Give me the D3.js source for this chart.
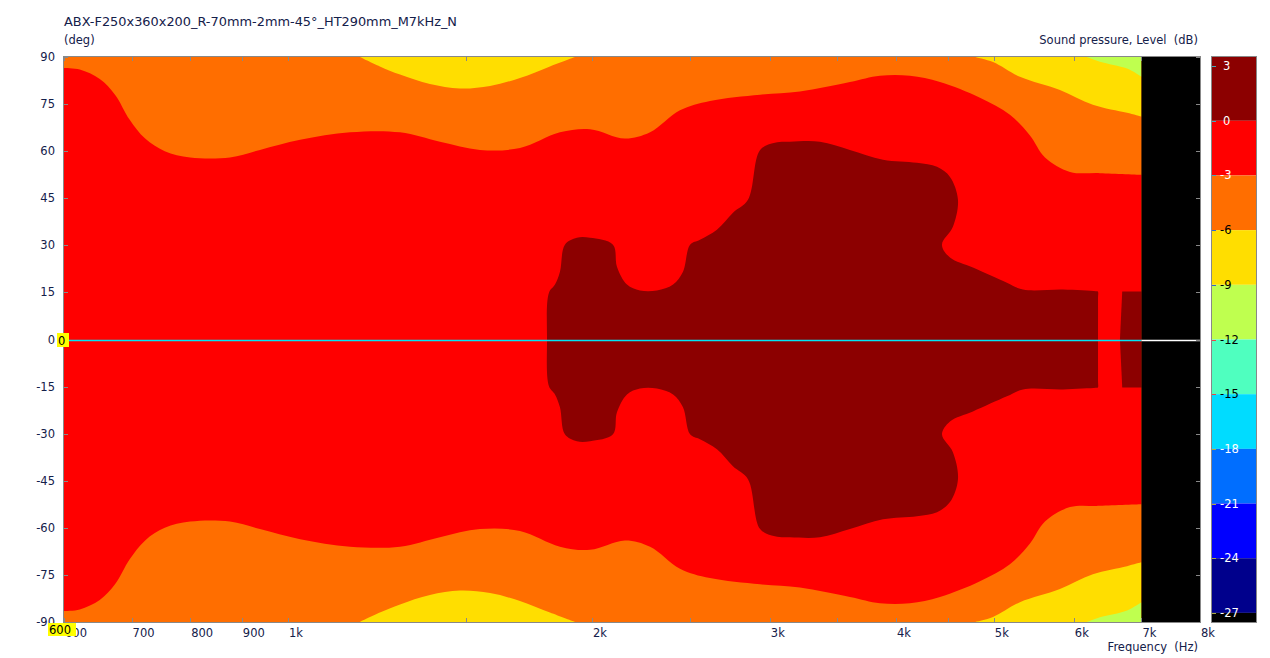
<!DOCTYPE html>
<html>
<head>
<meta charset="utf-8">
<script src="https://cdn.jsdelivr.net/npm/d3@7/dist/d3.min.js"></script>
<style>
  body { margin: 0; background: #fff; }
  svg { display: block; font-family: "DejaVu Sans", Verdana, sans-serif; }
</style>
</head>
<body>
<div class="js-d3"></div>
<script>
// chart data
const titleText = "ABX-F250x360x200_R-70mm-2mm-45°_HT290mm_M7kHz_N";

const xTicks = [600, 700, 800, 900, 1000, 1500, 2000, 2500, 3000, 3500, 4000, 4500, 5000, 6000, 7000, 8000];
const xTickLabels = ["600", "700", "800", "900", "1k", "", "2k", "", "3k", "", "4k", "", "5k", "6k", "7k", "8k"];
const yTicks = [-90, -75, -60, -45, -30, -15, 0, 15, 30, 45, 60, 75, 90];

// -3 dB contour (upper half, mirrored below)
const redFreq = [600, 622, 651, 674, 697, 722, 755, 800, 876, 938, 1028, 1152, 1291, 1414, 1549, 1697, 1859, 1991, 2156, 2283,
  2444, 2617, 2934, 3213, 3601, 3856, 4129, 4422, 4844, 5186, 5429, 5618, 5948, 6368, 7000];
const redDeg = [86.5, 86, 83, 78, 70, 64, 60, 58, 58, 60.4, 63.6, 66, 66, 63, 60.4, 61, 66, 67, 64, 66,
  73, 76, 78, 79, 82, 84, 84, 82, 77, 71.6, 65, 58, 53.4, 53, 52.5];

// -6 dB contour near the edges
const yelLeftFreq = [1178, 1233, 1291, 1382, 1480, 1585, 1697, 1817, 1924];
const yelLeftDeg = [90, 87, 84.4, 81.4, 80, 80.8, 83.3, 87, 90];
const yelRightFreq = [4789, 4990, 5306, 5813, 6266, 6774, 7000];
const yelRightDeg = [90, 88.4, 83.7, 79.5, 74.8, 72.2, 71];

// -9 dB contour
const greenFreq = [6181, 6368, 6774, 7000];
const greenDeg = [90, 88.5, 86.3, 83.7];

// 0 dB contour outline (upper half)
const darkFreq = [1805, 1813, 1838, 1859, 1880, 1932, 1991, 2098, 2117, 2166, 2231, 2319, 2406, 2461, 2501, 2558, 2659, 2758, 2854, 2934,
  3035, 3141, 3363, 3601, 3883, 4196, 4392, 4524, 4607, 4554, 4442, 4524, 4767, 5151, 5343, 5853, 6310, 6338, 6340, 6340];
const darkDeg = [0, 14.9, 17.5, 21.6, 30.2, 32.4, 32.4, 30.2, 23.2, 17.5, 15.6, 15.6, 17.5, 21.6, 30.2, 31.8, 35, 40.4, 44.5, 60.4,
  62.7, 63, 63, 60.4, 57.3, 56.3, 55, 51.8, 44.5, 35.9, 30.2, 26.1, 22.9, 18.1, 15.9, 15.9, 15.4, 15.3, 13, 0];
const darkTailFreq = [6665, 6700, 7000, 7000];
const darkTailDeg = [0, 15.3, 15.3, 0];

const dataEndFreq = 7000;

// colour legend
const cbEdges = [3.5, 0, -3, -6, -9, -12, -15, -18, -21, -24, -27, -27.5];
const cbColors = ["#8c0000", "#ff0000", "#ff6e00", "#ffde00", "#bfff4f", "#4fffbf", "#00dcff", "#006eff", "#0000ff", "#00008c", "#000000"];
const cbTicks = [3, 0, -3, -6, -9, -12, -15, -18, -21, -24, -27];
const cbTickText = ["#fff", "#fff", "#fff", "#000", "#000", "#000", "#000", "#fff", "#fff", "#fff", "#fff"];
const cbTickMark = ["#4ab", "#4ab", "#4ab", "#36c", "#36c", "#e44", "#e44", "#aa4", "#aa4", "#aa4", "#aa4"];

const W = 1270;
const H = 658;
const plot = { left: 64, right: 1200, top: 57, bottom: 622 };
const bar = { left: 1212, right: 1256 };
const textColor = "#14204a";

const zip = (a, b) => a.map((v, i) => [v, b[i]]);

const draw = () => {
  const svg = d3.select(".js-d3")
    .append("svg")
    .attr("width", W)
    .attr("height", H);

  const x = d3.scaleLog().domain([600, 8000]).range([plot.left, plot.right]);
  const y = d3.scaleLinear().domain([-90, 90]).range([plot.bottom, plot.top]);

  svg.append("clipPath")
    .attr("id", "clip")
    .append("rect")
    .attr("x", plot.left)
    .attr("y", plot.top)
    .attr("width", plot.right - plot.left)
    .attr("height", plot.bottom - plot.top);

  const g = svg.append("g").attr("clip-path", "url(#clip)");

  // base band: -6..-3
  g.append("rect")
    .attr("x", plot.left)
    .attr("y", plot.top)
    .attr("width", plot.right - plot.left)
    .attr("height", plot.bottom - plot.top)
    .attr("fill", cbColors[2]);

  const curve = d3.curveCatmullRom.alpha(0.5);

  const edgeArea = (sign) => d3.area()
    .x((d) => x(d[0]))
    .y0(y(sign * 90))
    .y1((d) => y(sign * d[1]))
    .curve(curve);

  [[yelLeftFreq, yelLeftDeg, cbColors[3]], [yelRightFreq, yelRightDeg, cbColors[3]], [greenFreq, greenDeg, cbColors[4]]]
    .forEach(([f, d, c]) => {
      [1, -1].forEach((s) => {
        g.append("path")
          .attr("d", edgeArea(s)(zip(f, d)))
          .attr("fill", c);
      });
    });

  const redArea = d3.area()
    .x((d) => x(d[0]))
    .y0((d) => y(-d[1]))
    .y1((d) => y(d[1]))
    .curve(curve);

  g.append("path")
    .attr("d", redArea(zip(redFreq, redDeg)))
    .attr("fill", cbColors[1]);

  const mirrored = (pts) => pts.concat(pts.slice(1, -1).reverse().map(([f, d]) => [f, -d]));

  const closedLine = d3.line()
    .x((d) => x(d[0]))
    .y((d) => y(d[1]))
    .curve(d3.curveCatmullRomClosed.alpha(0.5));

  g.append("path")
    .attr("d", closedLine(mirrored(zip(darkFreq, darkDeg))))
    .attr("fill", cbColors[0]);

  g.append("path")
    .attr("d", d3.line().x((d) => x(d[0])).y((d) => y(d[1]))(mirrored(zip(darkTailFreq, darkTailDeg))) + "Z")
    .attr("fill", cbColors[0]);

  // no data beyond 7k
  g.append("rect")
    .attr("x", x(dataEndFreq))
    .attr("y", plot.top)
    .attr("width", plot.right - x(dataEndFreq))
    .attr("height", plot.bottom - plot.top)
    .attr("fill", "#000");

  // 0 deg cursor line
  const zy = Math.round(y(0)) + 0.5;
  g.append("line")
    .attr("x1", plot.left).attr("x2", x(dataEndFreq))
    .attr("y1", zy).attr("y2", zy)
    .attr("stroke", "#00e4f4")
    .attr("stroke-width", 1.4);
  g.append("line")
    .attr("x1", x(dataEndFreq)).attr("x2", plot.right)
    .attr("y1", zy).attr("y2", zy)
    .attr("stroke", "#fff")
    .attr("stroke-width", 1.4);

  // frame and ticks
  const axes = svg.append("g").attr("stroke", "#888").attr("shape-rendering", "crispEdges");
  axes.append("rect")
    .attr("x", plot.left - 0.5)
    .attr("y", plot.top - 0.5)
    .attr("width", plot.right - plot.left + 1)
    .attr("height", plot.bottom - plot.top + 1)
    .attr("fill", "none");

  xTicks.forEach((t) => {
    const px = Math.round(x(t)) + 0.5;
    axes.append("line").attr("x1", px).attr("x2", px).attr("y1", plot.bottom).attr("y2", plot.bottom - 4);
    axes.append("line").attr("x1", px).attr("x2", px).attr("y1", plot.top).attr("y2", plot.top + 4);
  });
  yTicks.forEach((t) => {
    const py = Math.round(y(t)) + 0.5;
    axes.append("line").attr("x1", plot.left).attr("x2", plot.left + 4).attr("y1", py).attr("y2", py);
    axes.append("line").attr("x1", plot.right - 4).attr("x2", plot.right).attr("y1", py).attr("y2", py);
  });

  const labels = svg.append("g").attr("font-size", 11.5).attr("fill", textColor);

  xTicks.forEach((t, i) => {
    if (!xTickLabels[i]) return;
    labels.append("text")
      .attr("x", x(t) + 1)
      .attr("y", 637)
      .text(xTickLabels[i]);
  });

  yTicks.forEach((t) => {
    labels.append("text")
      .attr("x", 55)
      .attr("y", y(t))
      .attr("dy", "0.35em")
      .attr("text-anchor", "end")
      .text(t);
  });

  labels.append("text").attr("x", plot.left).attr("y", 26).attr("font-size", 12.9).text(titleText);
  labels.append("text").attr("x", plot.left).attr("y", 44).text("(deg)");
  labels.append("text").attr("x", 1198).attr("y", 44).attr("text-anchor", "end")
    .attr("xml:space", "preserve").text("Sound pressure, Level  (dB)");
  labels.append("text").attr("x", 1198).attr("y", 651).attr("text-anchor", "end")
    .attr("xml:space", "preserve").text("Frequency  (Hz)");

  // yellow cursor readouts
  const marks = [
    { x: 57, y: 333, w: 12, h: 14, label: "0" },
    { x: 48, y: 623, w: 28, h: 13, label: "600" }
  ];
  marks.forEach((m) => {
    labels.append("rect").attr("x", m.x).attr("y", m.y).attr("width", m.w).attr("height", m.h).attr("fill", "#ffff00");
    labels.append("text").attr("x", m.x + 1).attr("y", m.y + m.h - 2.5).attr("fill", "#000").text(m.label);
  });

  // colour bar
  const cb = d3.scaleLinear().domain([cbEdges[0], cbEdges[cbEdges.length - 1]]).range([plot.top, plot.bottom]);
  const cbG = svg.append("g");
  cbColors.forEach((c, i) => {
    cbG.append("rect")
      .attr("x", bar.left)
      .attr("y", cb(cbEdges[i]))
      .attr("width", bar.right - bar.left)
      .attr("height", cb(cbEdges[i + 1]) - cb(cbEdges[i]))
      .attr("fill", c);
  });
  cbG.append("rect")
    .attr("x", bar.left - 0.5)
    .attr("y", plot.top - 0.5)
    .attr("width", bar.right - bar.left + 1)
    .attr("height", plot.bottom - plot.top + 1)
    .attr("fill", "none")
    .attr("stroke", "#888")
    .attr("shape-rendering", "crispEdges");
  cbTicks.forEach((t, i) => {
    const py = Math.round(cb(t)) + 0.5;
    cbG.append("line")
      .attr("x1", bar.left).attr("x2", bar.left + 4)
      .attr("y1", py).attr("y2", py)
      .attr("stroke", cbTickMark[i]);
    cbG.append("text")
      .attr("x", t >= 0 ? 1223 : 1220)
      .attr("y", cb(t))
      .attr("dy", "0.35em")
      .attr("font-size", 11.5)
      .attr("fill", cbTickText[i])
      .text(t);
  });
};

draw();
</script>
</body>
</html>
